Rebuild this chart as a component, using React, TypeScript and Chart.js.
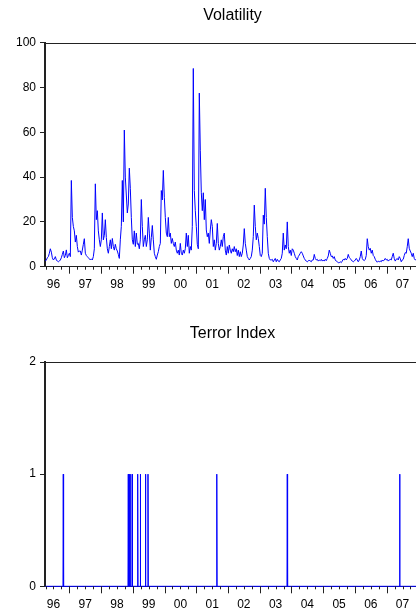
import React, { useEffect, useRef } from 'react';
import { Chart, registerables } from 'chart.js';

Chart.register(...registerables);

const FONT = "'Liberation Sans', Arial, Helvetica, sans-serif";

// x axis range in decimal years
const X_MIN = 1996.234;
const X_MAX = 2008.05;
const YEARS = [1996, 1997, 1998, 1999, 2000, 2001, 2002, 2003, 2004, 2005, 2006, 2007];
const YEAR_LABELS = ['96', '97', '98', '99', '00', '01', '02', '03', '04', '05', '06', '07'];

const VOL_TICKS_MAX = 100;
const VOL_TICK_STEP = 20;
const TERROR_TICKS_MAX = 2;
const TERROR_TICK_STEP = 1;

// Volatility series: first observation date (decimal year) and sampling interval (~11.5 days)
const VOL_START = 1996.245;
const VOL_STEP = 0.0315;
const VOLATILITY = [
  2.5, 3, 4, 4.5, 6, 8, 6.5, 4, 3, 3.5,
  4.5, 3, 2.5, 2.2, 2.5, 3, 4, 5.5, 7, 4,
  5, 7.5, 4, 5, 6, 4.5, 38.5, 22, 18, 16,
  11, 14, 9, 6.5, 7, 7, 5.2, 7.4, 10, 12.5,
  6, 5, 4.5, 4, 3.5, 3, 3.5, 3, 4.5, 8,
  37, 21, 25, 16, 12, 9, 12, 24, 12, 14,
  21, 13, 8, 6, 9, 12, 8, 12.6, 9, 7.4,
  10, 8, 7, 5.5, 3.7, 12, 18, 38.5, 20, 61,
  40, 32, 24, 28, 44, 35, 22, 12, 10, 16,
  9, 15, 10, 10.4, 8, 12, 30, 18, 9, 12,
  14, 9, 12, 22, 15, 7.4, 13, 18.4, 12, 6,
  4.5, 3.3, 5.2, 6.7, 9, 10.4, 34, 29.8, 43, 31,
  22, 15, 13.4, 22, 13.4, 15, 10.4, 12.6, 10.4, 9,
  11, 7.4, 6, 7.4, 5.2, 10.4, 6, 5.2, 7.4, 6,
  8, 15, 9, 14, 6, 9, 7.4, 18, 88.5, 34,
  25, 18, 10, 8, 77.5, 52, 33, 25, 33, 21,
  30, 16.4, 13.4, 15, 10.4, 16.4, 21, 18, 9, 12,
  7.4, 10.4, 19.3, 10.4, 7.4, 9, 12, 9, 13.4, 15,
  7.4, 5.2, 9, 6, 9.7, 7.4, 6, 8, 6.7, 9,
  6.7, 8, 5, 7.4, 4.5, 6.7, 4.5, 6, 9.7, 17,
  10.4, 7.4, 4.5, 3.7, 3, 3.7, 4.5, 7.4, 13.4, 27.5,
  18, 12, 15, 12.6, 9, 5, 4.5, 6, 23, 19,
  35, 22, 13.4, 6, 3.7, 3, 3, 3.3, 2.2, 3,
  3.7, 2.2, 3.3, 2.5, 2.2, 3, 3.7, 6, 15, 7.4,
  9.7, 8, 20, 9, 6, 7.4, 5, 8, 7.4, 6,
  4.5, 3.7, 3, 4.5, 5.2, 6, 6.7, 6, 4.8, 3.7,
  3, 2.5, 2.2, 2.5, 3, 2.5, 2.2, 3, 3, 5.5,
  3.7, 3, 3.3, 2.5, 3, 2.7, 3.3, 2.5, 3, 2.5,
  3.3, 2.7, 3.7, 4.8, 7.4, 6, 4.5, 4.8, 3.7, 4.5,
  3, 2.5, 2.2, 1.8, 1.8, 2.2, 1.8, 2.5, 3.3, 3,
  3.7, 3, 3.7, 5.5, 4.1, 3.7, 3, 2.5, 2.2, 2.5,
  3, 3.7, 3, 2.2, 3, 4.5, 7, 3.7, 3, 2.7,
  3.3, 5, 12.5, 8.9, 7.4, 8.2, 6, 7.4, 5, 4.5,
  3.3, 2.5, 2, 2.5, 2.2, 2.5, 2.2, 3, 2.5, 3,
  3.7, 3, 3.3, 2.5, 3, 3.3, 3, 4.5, 6, 3.7,
  2.5, 3.3, 3.7, 3, 4.5, 3.7, 2.2, 3, 3.3, 5,
  6.3, 6, 8.9, 12.5, 8.2, 7, 6, 4.5, 6, 3.7,
  3, 3.3,
];

// Terror index: weeks (decimal years) in which the index equals 1; 0 otherwise
const TERROR_START = 1996.245;
const TERROR_END = 2007.97;
const TERROR_EVENTS = [
  1996.81, 1998.858, 1998.896, 1998.934, 1998.985, 1999.155,
  1999.237, 1999.4, 1999.479, 2001.647, 2003.868, 2007.409,
];
const HALF_WEEK = 3.5 / 365;

const framePlugin = {
  id: 'frame',
  afterDraw(chart: any) {
    const { ctx, chartArea: a, scales } = chart;
    const x = scales.x;
    ctx.save();
    ctx.strokeStyle = '#222';
    ctx.lineWidth = 1;
    ctx.beginPath();
    ctx.moveTo(a.left, Math.round(a.top) + 0.5);
    ctx.lineTo(a.right, Math.round(a.top) + 0.5);
    ctx.moveTo(Math.round(a.right) - 0.5, a.top);
    ctx.lineTo(Math.round(a.right) - 0.5, a.bottom);
    for (let q = Math.ceil(x.min * 4); q <= Math.floor(x.max * 4); q++) {
      const px = Math.round(x.getPixelForValue(q / 4)) + 0.5;
      const len = q % 4 === 0 ? 7 : 3;
      ctx.moveTo(px, a.bottom);
      ctx.lineTo(px, a.bottom + len);
    }
    ctx.stroke();
    ctx.restore();
  },
};

function makeConfig(
  points: { x: number; y: number }[],
  yMax: number,
  yStep: number,
  title: string,
  titlePad: { top: number; bottom: number },
  xAxisHeight: number
): any {
  return {
    type: 'line',
    data: {
      datasets: [
        {
          data: points,
          borderColor: '#0000ff',
          borderWidth: 1,
          pointRadius: 0,
          tension: 0,
          fill: false,
          clip: false,
        },
      ],
    },
    options: {
      animation: false,
      responsive: false,
      events: [],
      layout: { padding: { left: 0, right: 20, top: 0, bottom: 0 } },
      plugins: {
        legend: { display: false },
        tooltip: { enabled: false },
        title: {
          display: true,
          text: title,
          fullSize: false,
          color: '#000',
          font: { family: FONT, size: 16, weight: 'normal', lineHeight: 1.2 },
          padding: titlePad,
        },
      },
      scales: {
        x: {
          type: 'linear',
          min: X_MIN,
          max: X_MAX,
          grid: { display: false, drawTicks: true, tickLength: 8 },
          border: { display: true, color: '#222', width: 1 },
          afterBuildTicks: (s: any) => {
            s.ticks = YEARS.map((y) => ({ value: y + 0.5 }));
          },
          afterFit: (s: any) => {
            s.height = xAxisHeight;
          },
          ticks: {
            autoSkip: false,
            maxRotation: 0,
            minRotation: 0,
            padding: 3,
            color: '#000',
            font: { family: FONT, size: 12 },
            callback: (v: any) => {
              const idx = YEARS.indexOf(Math.floor(Number(v)));
              return idx >= 0 ? YEAR_LABELS[idx] : '';
            },
          },
        },
        y: {
          min: 0,
          max: yMax,
          afterFit: (s: any) => {
            s.width = 45;
          },
          grid: {
            drawOnChartArea: false,
            drawTicks: true,
            tickLength: 5,
            color: '#222',
            tickColor: '#222',
          },
          border: { display: true, color: '#222', width: 2 },
          ticks: {
            stepSize: yStep,
            padding: 4,
            color: '#000',
            font: { family: FONT, size: 12 },
          },
        },
      },
    },
    plugins: [framePlugin],
  };
}

export default function App() {
  const topRef = useRef<HTMLCanvasElement>(null);
  const botRef = useRef<HTMLCanvasElement>(null);

  useEffect(() => {
    const volPoints = VOLATILITY.map((v, i) => ({ x: VOL_START + i * VOL_STEP, y: v }));
    const terrorPoints: { x: number; y: number }[] = [{ x: TERROR_START, y: 0 }];
    TERROR_EVENTS.forEach((t) => {
      terrorPoints.push({ x: t - HALF_WEEK, y: 0 }, { x: t, y: 1 }, { x: t + HALF_WEEK, y: 0 });
    });
    terrorPoints.push({ x: TERROR_END, y: 0 });

    const c1 = new Chart(
      topRef.current as HTMLCanvasElement,
      makeConfig(volPoints, VOL_TICKS_MAX, VOL_TICK_STEP, 'Volatility', { top: 6.4, bottom: 17.1 }, 33.3)
    );
    const c2 = new Chart(
      botRef.current as HTMLCanvasElement,
      makeConfig(terrorPoints, TERROR_TICKS_MAX, TERROR_TICK_STEP, 'Terror Index', { top: 24.4, bottom: 18.4 }, 21.7)
    );
    return () => {
      c1.destroy();
      c2.destroy();
    };
  }, []);

  return (
    <div
      style={{
        position: 'fixed',
        left: 0,
        top: 0,
        width: 416,
        height: 608,
        overflow: 'hidden',
        background: '#fff',
      }}
    >
      <canvas ref={topRef} width={440} height={300} style={{ position: 'absolute', left: 0, top: 0 }} />
      <canvas ref={botRef} width={440} height={308} style={{ position: 'absolute', left: 0, top: 300 }} />
    </div>
  );
}
